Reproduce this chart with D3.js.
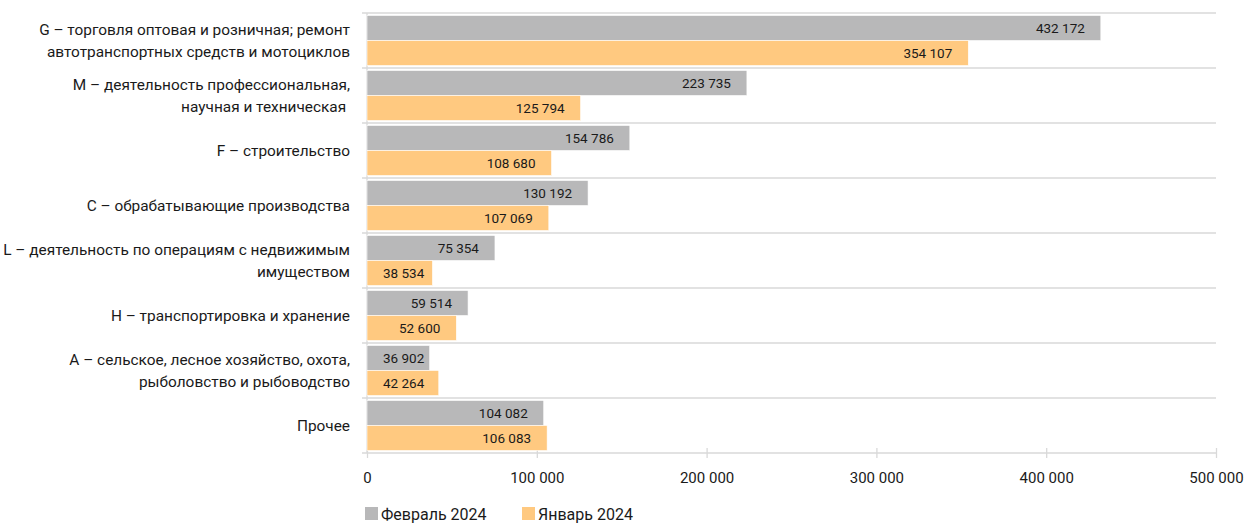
<!DOCTYPE html>
<html>
<head>
<meta charset="utf-8">
<script src="https://d3js.org/d3.v7.min.js"></script>
<style>
  body { margin: 0; background: #fff; }
  svg text { font-family: Roboto, "Noto Sans", sans-serif; fill: #1a1a1a; }
  .cat { font-size: 15.4px; white-space: pre; }
  .val { font-size: 13.5px; }
  .leg { font-size: 16px; }
</style>
</head>
<body>
<div id="chart"></div>
<script>
// categories (top to bottom), each label split into lines
const categories = [
  ["G – торговля оптовая и розничная; ремонт", "автотранспортных средств и мотоциклов"],
  ["M – деятельность профессиональная,", "научная и техническая "],
  ["F – строительство"],
  ["C – обрабатывающие производства"],
  ["L – деятельность по операциям с недвижимым", "имуществом"],
  ["H – транспортировка и хранение"],
  ["A – сельское, лесное хозяйство, охота,", "рыболовство и рыбоводство"],
  ["Прочее"]
];
const feb2024 = [432172, 223735, 154786, 130192, 75354, 59514, 36902, 104082];
const jan2024 = [354107, 125794, 108680, 107069, 38534, 52600, 42264, 106083];
const seriesNames = ["Февраль 2024", "Январь 2024"];
const seriesColors = ["#b8b8b9", "#ffc980"];
const xTicks = [0, 100000, 200000, 300000, 400000, 500000];

const W = 1255, H = 524;
const plotL = 367, plotR = 1216, plotT = 13, plotB = 453;

const svg = d3.select("#chart").append("svg")
  .attr("width", W).attr("height", H);

const x = d3.scaleLinear().domain([0, 500000]).range([plotL, plotR]);
const y = d3.scaleBand().domain(d3.range(categories.length)).range([plotT, plotB]);
const sub = d3.scaleBand().domain([0, 1]).range([0, y.bandwidth()]).paddingOuter(0.1);

const fmt = v => d3.format(",")(v).replace(/,/g, " ");

// horizontal gridlines at category boundaries
const bounds = d3.range(categories.length).map(i => y(i));
svg.append("g").selectAll("line")
  .data(bounds)
  .join("line")
  .attr("x1", plotL - 5).attr("x2", plotR)
  .attr("y1", d => d).attr("y2", d => d)
  .attr("stroke", "#d9d9d9").attr("stroke-width", 1.3);

// vertical axis line
svg.append("line")
  .attr("x1", plotL).attr("x2", plotL)
  .attr("y1", plotT).attr("y2", plotB)
  .attr("stroke", "#d9d9d9").attr("stroke-width", 1.3);

// bottom axis
const xAxis = svg.append("g")
  .attr("transform", `translate(0,${plotB})`)
  .call(d3.axisBottom(x).tickValues(xTicks).tickFormat(fmt).tickSize(5).tickPadding(14));
xAxis.select(".domain").attr("stroke", "#d9d9d9").attr("stroke-width", 1.3).attr("d", `M${plotL - 5},0H${plotR}`);
xAxis.selectAll(".tick line").attr("stroke", "#d9d9d9").attr("stroke-width", 1.3).attr("y1", -5);
xAxis.selectAll(".tick text").attr("fill", "#1a1a1a")
  .style("font-size", "15px").style("font-family", "Roboto, sans-serif");

// bars
const rows = categories.map((c, i) => ({ i, vals: [feb2024[i], jan2024[i]] }));
const g = svg.append("g").selectAll("g")
  .data(rows).join("g")
  .attr("transform", d => `translate(0,${y(d.i)})`);

g.selectAll("rect")
  .data(d => d.vals.map((v, s) => ({ v, s })))
  .join("rect")
  .attr("x", x(0))
  .attr("y", d => sub(d.s))
  .attr("width", d => x(d.v) - x(0))
  .attr("height", sub.bandwidth())
  .attr("fill", d => seriesColors[d.s])
  .attr("stroke", "#fff").attr("stroke-width", 0.6);

g.selectAll("text.val")
  .data(d => d.vals.map((v, s) => ({ v, s })))
  .join("text")
  .attr("class", "val")
  .attr("text-anchor", "end")
  .attr("y", d => sub(d.s) + sub.bandwidth() / 2)
  .attr("dy", "0.35em")
  .text(d => fmt(d.v))
  .attr("x", function (d) {
    const w = this.getComputedTextLength();
    return Math.max(x(d.v) - 16, x(0) + w + 16);
  });

// category labels
const lineH = 22;
svg.append("g").selectAll("text")
  .data(rows).join("text")
  .attr("class", "cat")
  .attr("text-anchor", "end")
  .each(function (d) {
    const lines = categories[d.i];
    const cy = y(d.i) + y.bandwidth() / 2;
    const t = d3.select(this);
    lines.forEach((ln, k) => {
      t.append("tspan")
        .attr("x", 350)
        .attr("y", cy + (k - (lines.length - 1) / 2) * lineH)
        .attr("dy", "0.35em")
        .text(ln);
    });
  });

// legend
const legX = [365, 522];
const leg = svg.append("g").selectAll("g")
  .data(seriesNames).join("g")
  .attr("transform", (d, i) => `translate(${legX[i]},507)`);
leg.append("rect").attr("width", 13).attr("height", 13)
  .attr("fill", (d, i) => seriesColors[i]);
leg.append("text").attr("class", "leg")
  .attr("x", 16).attr("y", 7).attr("dy", "0.35em")
  .text(d => d);
</script>
</body>
</html>
